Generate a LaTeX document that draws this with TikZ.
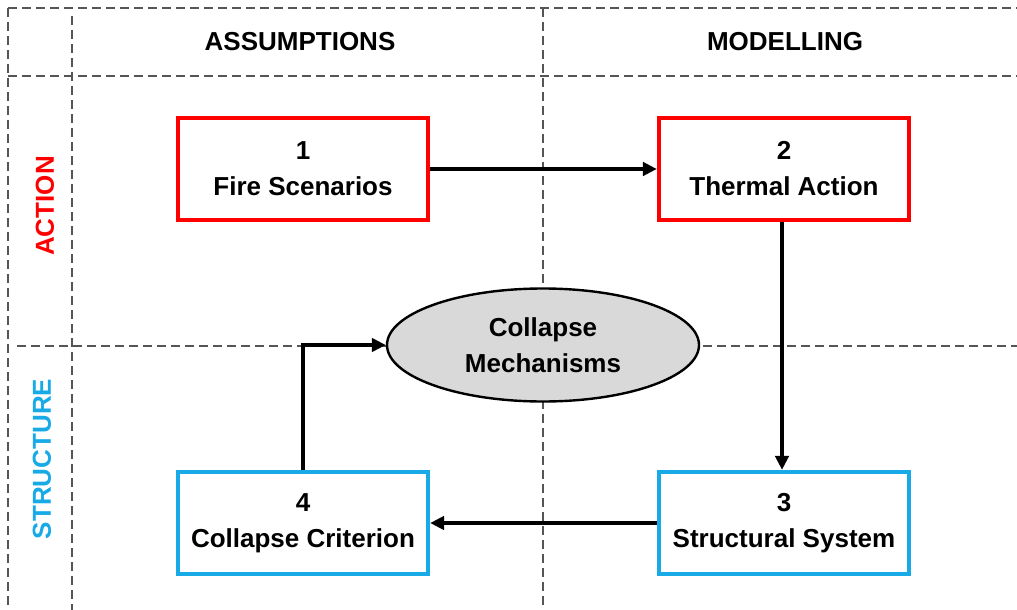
\documentclass[tikz,border=0pt]{standalone}
\usepackage{fontspec}
\setmainfont{Liberation Sans}
\usetikzlibrary{shapes.geometric,arrows.meta}
\definecolor{actred}{RGB}{255,0,0}
\definecolor{strblue}{RGB}{24,170,230}
\definecolor{gridgray}{RGB}{85,85,85}
\definecolor{mechgray}{RGB}{217,217,217}
\tikzset{
  gridline/.style={draw=gridgray, line width=1.3pt, dash pattern=on 6.5pt off 4pt},
  lbl/.style={font=\fontsize{19.5}{27}\selectfont\bfseries, align=center},
  stepbox/.style={lbl, draw, line width=3.2pt, minimum width=187.5pt, minimum height=76.5pt, inner sep=0pt},
  actbox/.style={stepbox, draw=actred},
  strbox/.style={stepbox, draw=strblue},
  flow/.style={line width=2.9pt, -{Triangle[length=10.5pt,width=10pt]}},
}
\begin{document}
\begin{tikzpicture}[x=0.75pt,y=-0.75pt]
\useasboundingbox (0,0) rectangle (1017,610);
% grid of the matrix
\draw[gridline] (8,8) -- (1017,8);
\draw[gridline] (8,8) -- (8,610);
\draw[gridline] (8,76) -- (1017,76);
\draw[gridline] (17,346) -- (1017,346);
\draw[gridline] (72,16) -- (72,610);
\draw[gridline] (543,8) -- (543,610);
% headings
\node[lbl] (hA) at (300,42) {ASSUMPTIONS};
\node[lbl] (hM) at (785,42) {MODELLING};
\node[lbl, text=actred, rotate=90] (hAct) at (45,206) {ACTION};
\node[lbl, text=strblue, rotate=90] (hStr) at (42,459) {STRUCTURE};
% steps
\node[actbox] (b1) at (303,169) {1\\Fire Scenarios};
\node[actbox] (b2) at (784,169) {2\\Thermal Action};
\node[strbox] (b3) at (784,523) {3\\Structural System};
\node[strbox] (b4) at (303,523) {4\\Collapse Criterion};
\node[lbl, ellipse, draw, line width=1.8pt, fill=mechgray, minimum width=312pt*0.75, minimum height=113pt*0.75, inner sep=0pt] (mech) at (543,345) {Collapse\\Mechanisms};
% flow
\draw[flow] (b1.east) -- (b2.west);
\draw[flow] ([xshift=-1.5pt]b2.south) -- ([xshift=-1.5pt]b3.north);
\draw[flow] (b3.west) -- (b4.east);
\draw[flow] (b4.north) |- (mech.west);
\end{tikzpicture}
\end{document}
